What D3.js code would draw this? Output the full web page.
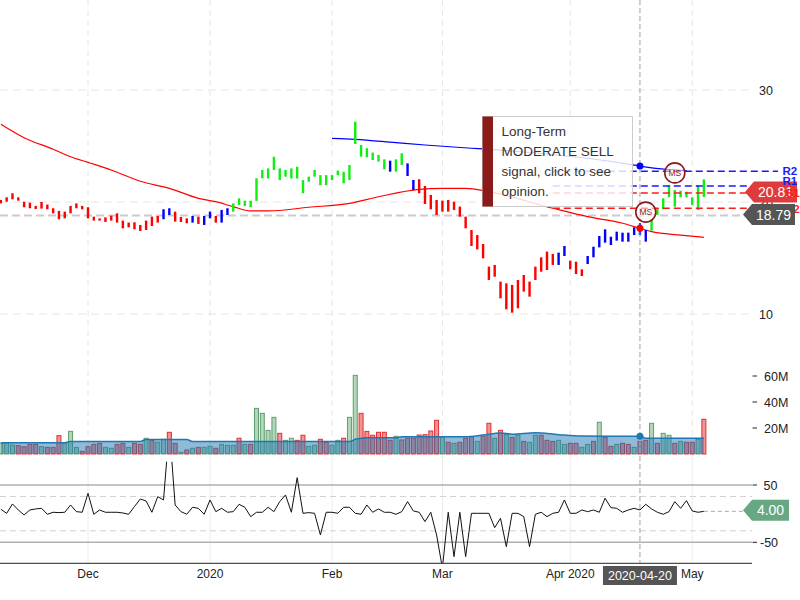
<!DOCTYPE html>
<html><head><meta charset="utf-8">
<script src="https://cdn.jsdelivr.net/npm/d3@7/dist/d3.min.js"></script>
<style>body{margin:0;background:#fff}svg{display:block;font-family:"Liberation Sans",Arial,sans-serif}</style>
</head><body><svg id="c" width="800" height="600"></svg>
<script>
// ---------- DATA ----------
const highs=[20.18,20.42,20.78,20.42,20.03,19.94,19.65,20.0,19.77,19.44,19.2,19.14,19.65,19.88,19.65,19.53,18.69,18.54,18.63,18.78,18.99,18.34,18.16,18.19,17.95,18.34,18.69,18.75,19.35,19.44,19.14,18.66,18.54,18.75,18.69,18.75,19.14,18.75,19.29,19.44,19.88,20.33,20.12,20.12,22.12,22.86,23.0,24.04,23.0,22.86,23.0,23.15,21.96,22.26,22.86,22.4,22.4,22.4,22.8,22.7,23.3,27.17,25.09,24.8,24.41,24.2,23.81,23.69,23.81,24.35,23.45,21.97,22.03,21.43,20.63,20.18,20.12,20.18,20.03,19.59,18.69,17.5,17.05,16.25,14.23,14.38,12.89,12.74,12.59,13.04,13.48,12.89,14.23,15.06,15.57,15.36,15.48,16.07,14.76,14.67,13.99,15.18,16.01,16.96,17.56,16.9,17.35,17.26,17.26,17.74,18.1,17.5,18.39,19.43,20.33,21.52,21.07,21.01,20.92,20.42,21.52,22.02];
const lows=[19.88,20.03,20.24,20.12,19.53,19.44,19.38,19.41,19.35,18.99,18.46,18.54,18.99,19.44,19.35,18.54,18.34,18.34,18.22,18.34,18.16,17.65,17.74,17.56,17.41,17.5,17.86,18.16,18.46,18.84,18.25,18.22,18.1,18.16,18.04,17.95,18.54,18.16,18.16,18.84,19.14,19.74,19.65,19.53,20.1,22.12,22.1,22.86,21.96,22.26,22.1,22.1,20.78,21.81,22.26,21.5,21.5,21.96,22.4,21.67,21.96,25.18,24.05,23.99,23.75,23.6,22.92,22.71,22.71,23.31,22.32,21.07,20.78,19.82,19.35,18.84,19.14,19.14,19.29,18.69,17.65,16.07,15.77,14.97,13.04,13.33,11.4,10.42,10.12,10.51,12.0,11.55,13.04,13.78,13.93,14.38,14.38,15.18,13.99,13.57,13.39,14.46,15.06,15.95,16.37,16.16,16.55,16.46,16.46,17.05,17.05,16.46,17.44,18.84,19.35,20.42,19.58,20.42,20.42,19.73,19.29,20.45];
const barSignal="rrrrrrrrrrrrrrrrrrrrrrrrrrrrbbrrrbrbbrbbgggggggggggggggggggggggggggbggbbrrrrrrrrrrrrrrrrrrrrrrrrbbrrrbbbbbbbbbbbgggggggggg".split("");
const maRed=[[0,26.94],[4,25.74],[9,24.71],[12,24.04],[15,23.54],[19,22.86],[24,21.85],[29,21.22],[34,20.33],[37,20.03],[40,19.58],[43,19.2],[46,19.2],[53,19.53],[60,19.88],[65,20.47],[72,21.13],[76,21.22],[80,21.22],[84,20.92],[95,19.44],[101,18.69],[107,18.1],[110,17.65],[112,17.35],[117,17.05],[121,16.85]];
const maBlue=[[57,25.69],[61,25.6],[68,25.3],[73,25.09],[81,24.8],[84,24.7],[109,23.3],[110,23.21],[115,22.9],[118,22.8]];
const levelNames=["R2","R1","S1","S2"];
const levelValues=[22.75,21.43,20.81,19.44];
const levelStart=95;
const lastPrice=20.81, refPrice=18.79;
const signals=[[111,19.1],[116,22.6]];
const volumes=[8.2,8.7,6.9,6.4,5.6,7.4,7.4,5.6,5.1,5.1,14.1,8.2,17.4,5.1,2.05,5.6,7.4,8.2,5.1,4.4,7.4,8.2,5.1,8.2,7.4,12.1,10.3,9.0,11.3,16.7,8.2,1.3,3.1,4.4,5.1,5.1,5.9,4.4,7.4,6.7,6.7,12.1,7.4,7.4,35.1,31.3,18.2,28.2,15.9,10.5,12.1,10.5,14.4,5.9,6.7,11.3,9.0,6.7,10.5,12.1,28.2,60.5,31.3,17.4,14.4,16.7,16.7,10.5,13.6,10.8,12.1,12.1,14.6,14.9,17.7,25.9,13.3,9.0,8.2,9.0,12.1,13.3,9.7,13.8,23.6,12.1,18.2,14.9,12.8,14.4,9.7,9.0,14.4,14.4,10.5,9.7,10.5,7.4,8.2,8.2,5.1,7.4,9.7,24.4,12.8,5.9,7.4,8.2,7.4,5.1,9.7,10.5,23.6,8.2,15.9,14.4,8.2,9.7,9.0,9.0,11.3,26.7];
const volDir="GGGRRRRGRRRGGGRRRRGGRRGRRGRGGRRGRGRGGRGGGRGRGGGGRGGRRGGRRGGRGGRRRRRRGRRRRRRRGRGRRRGRRGRGRGRGGRRRGGRRGGRGRRGRRGRRGRGGRGRRGR".split("");
const volMA=[[0,8.7],[11,8.7],[12,9.7],[24,9.7],[25,11.1],[32,11.1],[33,9.7],[60,9.6],[61,11.3],[63,12.5],[68,12.5],[69,13.3],[80,13.3],[83,14.6],[86,16.2],[88,15.2],[92,16.4],[96,14.9],[100,13.8],[110,13.6],[111,12.1],[121,12.1]];
const osc=[7.6,0.6,16.9,6.4,-2.3,6.4,8.2,9.3,-1.1,2.4,1.8,2.4,15.1,3.5,2.4,35.5,-1.1,6.4,2.4,2.4,2.4,1.2,-1.1,12.3,25.6,22.1,2.4,29.7,23.9,150,15.1,3.5,-1.1,11.1,9.3,-1.1,23.9,3.5,9.3,2.4,3.5,16.3,11.1,-5.2,2.4,2.4,11.1,3.5,21,32.6,2.4,62.8,0.6,1.8,0.6,-37.2,2.4,2.4,0.6,11.1,11.1,0.6,-1.1,15.1,2.4,8.2,2.4,2.4,-1.1,3.5,21,4.7,2.4,-13.9,2.4,-37.2,-95,2.4,-75,2.4,-75,0.6,0.6,0.6,0.6,-24.4,-8.1,-57.6,0.6,0.6,-5.2,-57.6,-1.1,2.4,-5.2,0.6,2.4,23.9,0.6,0.6,6.4,3.5,6.4,2.4,26.8,10.5,9.3,2.4,6.4,9.3,6.4,16.3,8.2,2.4,-1.1,3.5,21,9.3,22.7,4.7,2.4,4.0];
const monthIdx=[15,36,57,76,98,119];
const monthLbl=["Dec","2020","Feb","Mar","Apr 2020","May"];
const priceTicks=[10,20,30];
const volTicks=[20,40,60];
const oscTicks=[50,-50];
const oscBands=[30,-30];
const crossIdx=110, crossLbl="2020-04-20";
const signalText=["Long-Term","MODERATE SELL","signal, click to see","opinion."];

// ---------- SCALES ----------
const svg=d3.select("#c");
const x=d3.scaleLinear().domain([0,121]).range([0.85,703.86]);
const yP=d3.scaleLinear().domain([10,30]).range([314,90]);
const yV=d3.scaleLinear().domain([0,60]).range([454,376]);
const yO=d3.scaleLinear().domain([-50,50]).range([542.3,485]);
const RIGHT=752;
const defs=svg.append("defs");
defs.append("clipPath").attr("id","cp").append("rect").attr("x",0).attr("y",0).attr("width",RIGHT).attr("height",345);
defs.append("clipPath").attr("id","co").append("rect").attr("x",0).attr("y",461.7).attr("width",RIGHT).attr("height",101.6);

// vertical grid
const g0=svg.append("g");
monthIdx.forEach(i=>{
  g0.append("line").attr("x1",x(i)).attr("x2",x(i)).attr("y1",0).attr("y2",455).attr("stroke","#e6e6e6").attr("stroke-dasharray","6,4");
  g0.append("line").attr("x1",x(i)).attr("x2",x(i)).attr("y1",455).attr("y2",563).attr("stroke","#ececec");
});
// horizontal price grid
priceTicks.forEach(p=>{
  g0.append("line").attr("x1",0).attr("x2",RIGHT).attr("y1",yP(p)).attr("y2",yP(p)).attr("stroke","#e6e6e6").attr("stroke-dasharray","8,5");
});
// reference price line
g0.append("line").attr("x1",0).attr("x2",745).attr("y1",yP(refPrice)).attr("y2",yP(refPrice)).attr("stroke","#cbcbcb").attr("stroke-width",2).attr("stroke-dasharray","8,4");

// price panel
const gp=svg.append("g").attr("clip-path","url(#cp)");
const ln=d3.line().x(d=>x(d[0])).y(d=>yP(d[1])).curve(d3.curveMonotoneX);
gp.append("path").attr("d",ln(maRed)).attr("fill","none").attr("stroke","#ff0000").attr("stroke-width",1.2);
gp.append("path").attr("d",ln(maBlue)).attr("fill","none").attr("stroke","#0000ff").attr("stroke-width",1.2);
// level lines
const levCol=n=>n[0]==="R"?"#1a1aff":"#ff1a1a";
levelValues.forEach((v,k)=>{
  svg.append("line").attr("x1",x(levelStart)).attr("x2",778).attr("y1",yP(v)).attr("y2",yP(v))
    .attr("stroke",levCol(levelNames[k])).attr("stroke-width",1.6).attr("stroke-dasharray","7,4");
});
const cmap={r:"#ff0000",g:"#11ee11",b:"#0000ff"};
gp.selectAll("rect.bar").data(highs).enter().append("rect")
  .attr("x",(d,i)=>x(i)-1.2).attr("width",2.4)
  .attr("y",d=>yP(d)).attr("height",(d,i)=>Math.max(1,yP(lows[i])-yP(d)))
  .attr("fill",(d,i)=>cmap[barSignal[i]]);

// tooltip box
const tb=svg.append("g");
tb.append("rect").attr("x",482.5).attr("y",116.5).attr("width",150).attr("height",90).attr("fill","#fff").attr("fill-opacity",0.82).attr("stroke","#cccccc");
tb.append("rect").attr("x",482.5).attr("y",116.5).attr("width",10.5).attr("height",90).attr("fill","#8b1a1a");
signalText.forEach((t,k)=>tb.append("text").attr("x",501.5).attr("y",135.5+k*20).attr("font-size",13.5).attr("fill","#333").text(t));

// volume panel
const gv=svg.append("g");
gv.selectAll("rect.v").data(volumes).enter().append("rect")
  .attr("x",(d,i)=>x(i)-2).attr("width",4)
  .attr("y",d=>yV(d)).attr("height",d=>yV(0)-yV(d))
  .attr("fill",(d,i)=>volDir[i]==="G"?"#b3d6bb":"#f39494")
  .attr("stroke",(d,i)=>volDir[i]==="G"?"#5e9e70":"#e22f2f").attr("stroke-width",1);
const area=d3.area().x(d=>x(d[0])).y0(yV(0)).y1(d=>yV(d[1])).curve(d3.curveMonotoneX);
gv.append("path").attr("d",area(volMA)).attr("fill","#1f77b4").attr("fill-opacity",0.5);
gv.append("path").attr("d",d3.line().x(d=>x(d[0])).y(d=>yV(d[1])).curve(d3.curveMonotoneX)(volMA)).attr("fill","none").attr("stroke","#1f77b4").attr("stroke-width",1.5);

// oscillator panel
const go=svg.append("g");
oscTicks.forEach(v=>go.append("line").attr("x1",0).attr("x2",RIGHT).attr("y1",yO(v)).attr("y2",yO(v)).attr("stroke","#b0b0b0").attr("stroke-width",1.6));
oscBands.forEach(v=>go.append("line").attr("x1",0).attr("x2",RIGHT).attr("y1",yO(v)).attr("y2",yO(v)).attr("stroke","#d0d0d0").attr("stroke-dasharray","6,4"));
go.append("g").attr("clip-path","url(#co)").append("path")
  .attr("d",d3.line().x((d,i)=>x(i)).y(d=>yO(d))(osc)).attr("fill","none").attr("stroke","#111").attr("stroke-width",1);
const lastOsc=osc[osc.length-1];
go.append("line").attr("x1",x(osc.length-1)).attr("x2",744).attr("y1",yO(lastOsc)).attr("y2",yO(lastOsc)).attr("stroke","#aaa").attr("stroke-dasharray","4,3");

// x axis
svg.append("line").attr("x1",0).attr("x2",RIGHT).attr("y1",563.3).attr("y2",563.3).attr("stroke","#222");
monthIdx.forEach((i,k)=>svg.append("text").attr("x",x(i)).attr("y",578).attr("text-anchor","middle").attr("font-size",12).attr("fill","#222").text(monthLbl[k]));

// right axis labels
priceTicks.forEach(p=>svg.append("text").attr("x",759).attr("y",yP(p)+4.5).attr("font-size",12.5).attr("fill","#222").text(p));
volTicks.forEach(v=>{
  svg.append("line").attr("x1",752.5).attr("x2",757).attr("y1",yV(v)).attr("y2",yV(v)).attr("stroke","#222");
  svg.append("text").attr("x",764).attr("y",yV(v)+4.5).attr("font-size",12.5).attr("fill","#222").text(v+"M");
});
oscTicks.forEach(v=>{
  svg.append("line").attr("x1",752.5).attr("x2",757).attr("y1",yO(v)).attr("y2",yO(v)).attr("stroke","#222");
  svg.append("text").attr("x",v<0?760:763.5).attr("y",yO(v)+4.5).attr("font-size",12.5).attr("fill","#222").text(v);
});

// crosshair
const cx=x(crossIdx);
svg.append("line").attr("x1",cx).attr("x2",cx).attr("y1",0).attr("y2",563).attr("stroke","#a0a0a0").attr("stroke-dasharray","5,3");
const bl=maBlue.find(d=>d[0]===crossIdx), rl=maRed.find(d=>d[0]===crossIdx), vl=volMA.find(d=>d[0]===crossIdx);
svg.append("circle").attr("cx",cx).attr("cy",yP(bl[1])).attr("r",3.5).attr("fill","#0000ff");
svg.append("circle").attr("cx",cx).attr("cy",yP(rl[1])).attr("r",3.5).attr("fill","#ff0000");
svg.append("circle").attr("cx",cx).attr("cy",yV(vl[1])).attr("r",3.5).attr("fill","#1f77b4");
svg.append("rect").attr("x",cx-37).attr("y",566).attr("width",74).attr("height",19).attr("fill","#555");
svg.append("text").attr("x",cx).attr("y",580).attr("text-anchor","middle").attr("font-size",12.5).attr("fill","#fff").text(crossLbl);

// signals
signals.forEach(s=>{
  const g=svg.append("g").attr("transform",`translate(${x(s[0])},${yP(s[1])})`);
  g.append("circle").attr("r",10).attr("fill","#fff").attr("fill-opacity",0.55).attr("stroke","#8b1a1a").attr("stroke-width",1.6);
  g.append("text").attr("y",3).attr("text-anchor","middle").attr("font-size",8.5).attr("fill","#8b1a1a").text("MS");
});

// right labels
function tag(cy,x0,x1,fill,txt){
  svg.append("path").attr("d",`M${x0},${cy} L${x0+9},${cy-10.5} L${x1},${cy-10.5} L${x1},${cy+10.5} L${x0+9},${cy+10.5} Z`).attr("fill",fill);
  svg.append("text").attr("x",(x0+9+x1)/2).attr("y",cy+5).attr("text-anchor","middle").attr("font-size",14).attr("fill","#fff").text(txt);
}
tag(yP(lastPrice)-1,745,797,"#e03b3b",lastPrice.toFixed(2));
const lblY=[175,185,197,212.5];
levelNames.forEach((n,k)=>svg.append("text").attr("x",n[0]==="R"?782.5:785.5).attr("y",lblY[k]).attr("font-size",11.5).attr("font-weight","bold").attr("fill",levCol(n)).text(n));
tag(yP(refPrice)-1,743,795,"#555555",refPrice.toFixed(2));
tag(yO(lastOsc)-1,743,789,"#68a783",lastOsc.toFixed(2));
</script></body></html>
